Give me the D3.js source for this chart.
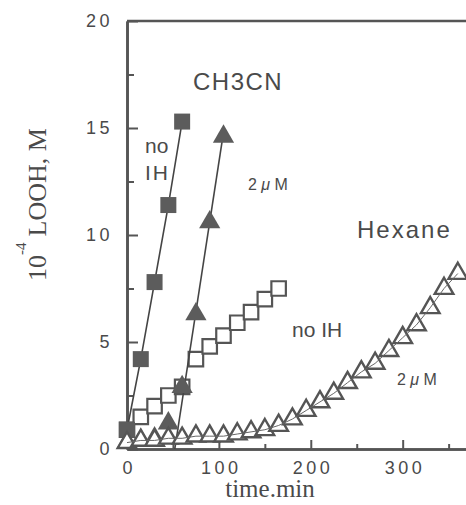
<!DOCTYPE html>
<html>
<head>
<meta charset="utf-8">
<script src="https://cdn.jsdelivr.net/npm/d3@7"></script>
<style>
    body { margin: 0; background: #fff; }
    svg { display: block; }
    .tick text { font-family: "Liberation Sans", Arial, sans-serif; font-size: 18px; fill: #4a4a4a; letter-spacing: 3.5px; }
    .note { font-family: "Liberation Sans", Arial, sans-serif; fill: #4a4a4a; }
    .serif { font-family: "Liberation Serif", "Times New Roman", serif; fill: #4a4a4a; }
</style>
</head>
<body>
<script>
"use strict";

// axis ticks
const timeTicks = [0, 100, 200, 300];
const timeMinor = [50, 150, 250, 350];
const loohTicks = [0, 5, 10, 15, 20];
const loohMinor = [2.5, 7.5, 12.5, 17.5];

// CH3CN, no inhibitor (filled squares)
const ch3cnNoIhTime = [0, 15, 30, 45, 60];
const ch3cnNoIhLooh = [0.9, 4.2, 7.8, 11.4, 15.3];

// CH3CN, 2 uM (filled triangles) + its fitted line
const ch3cn2uMTime = [0, 15, 30, 45, 60, 75, 90, 105];
const ch3cn2uMLooh = [0.3, 0.4, 0.5, 1.2, 2.9, 6.3, 10.6, 14.6];
const ch3cn2uMFitTime = [52, 105];
const ch3cn2uMFitLooh = [0, 14.8];

// Hexane, no inhibitor (open squares)
const hexNoIhTime = [0, 15, 30, 45, 60, 75, 90, 105, 120, 135, 150, 165];
const hexNoIhLooh = [0.9, 1.5, 2.0, 2.5, 2.9, 4.2, 4.8, 5.3, 5.9, 6.4, 7.0, 7.5];

// Hexane, 2 uM (open triangles)
const hex2uMTime = [0, 15, 30, 45, 60, 75, 90, 105, 120, 135, 150, 165, 180,
                    195, 210, 225, 240, 255, 270, 285, 300, 315, 330, 345, 360];
const hex2uMLooh = [0.3, 0.4, 0.4, 0.5, 0.5, 0.6, 0.6, 0.6, 0.7, 0.8, 0.9, 1.1, 1.4,
                    1.8, 2.2, 2.6, 3.1, 3.6, 4.0, 4.6, 5.2, 5.8, 6.6, 7.5, 8.2];

(function(){
    let svgContainer = "";

    const measurements = {
        width: 466,
        height: 505,
        left: 127,
        right: 467,
        top: 21,
        bottom: 449
    }

    const ink = "#555";

    window.onload = function() {
        svgContainer = d3.select('body').append("svg")
            .attr('width', measurements.width)
            .attr('height', measurements.height);

        let scaleX = d3.scaleLinear()
            .domain([0, 370])
            .range([measurements.left, measurements.right]);

        let scaleY = d3.scaleLinear()
            .domain([0, 20])
            .range([measurements.bottom, measurements.top]);

        drawAxes(scaleX, scaleY);
        plotData(scaleX, scaleY);
        makeLabels();
    }

    function zip(xs, ys) {
        return xs.map((x, i) => [x, ys[i]]);
    }

    function drawAxes(scaleX, scaleY) {
        // ticks point into the plot
        let xMajor = d3.axisBottom(scaleX).tickValues(timeTicks)
            .tickSizeInner(-9).tickSizeOuter(0).tickPadding(12);
        let xMinor = d3.axisBottom(scaleX).tickValues(timeMinor)
            .tickSizeInner(-5).tickSizeOuter(0).tickFormat("");
        let yMajor = d3.axisLeft(scaleY).tickValues(loohTicks)
            .tickSizeInner(-11).tickSizeOuter(0).tickPadding(14);
        let yMinor = d3.axisLeft(scaleY).tickValues(loohMinor)
            .tickSizeInner(-7).tickSizeOuter(0).tickFormat("");

        const bottom = 'translate(0,' + measurements.bottom + ')';
        const left = 'translate(' + measurements.left + ',0)';

        [[xMinor, bottom], [xMajor, bottom], [yMinor, left], [yMajor, left]].forEach(function(a) {
            let g = svgContainer.append('g')
                .attr('transform', a[1])
                .call(a[0]);
            g.select('.domain').attr('stroke', ink).attr('stroke-width', 2.6);
            g.selectAll('line').attr('stroke', ink).attr('stroke-width', 2);
        });
        // letter-spacing leaves a trailing gap, pull x labels back to centre
        svgContainer.selectAll('.tick text').attr('dx', function() {
            return d3.select(this.parentNode.parentNode).attr('transform') === bottom ? '1.75px' : null;
        });

        // frame top
        svgContainer.append('line')
            .attr('x1', scaleX(0)).attr('x2', scaleX(370))
            .attr('y1', scaleY(20)).attr('y2', scaleY(20))
            .attr('stroke', ink).attr('stroke-width', 2.6);
    }

    function plotData(scaleX, scaleY) {
        const line = d3.line().x(d => scaleX(d[0])).y(d => scaleY(d[1]));
        const place = d => 'translate(' + scaleX(d[0]) + ',' + scaleY(d[1]) + ')';

        // hexane no IH - open squares
        svgContainer.selectAll('.hexNoIh')
            .data(zip(hexNoIhTime, hexNoIhLooh))
            .enter().append('path')
            .attr('class', 'hexNoIh')
            .attr('d', d3.symbol(d3.symbolSquare, 210))
            .attr('transform', place)
            .attr('fill', '#fff')
            .attr('stroke', ink)
            .attr('stroke-width', 2.2);

        // lines
        svgContainer.append('path')
            .datum(zip(ch3cnNoIhTime, ch3cnNoIhLooh))
            .attr('d', line)
            .attr('fill', 'none').attr('stroke', '#444').attr('stroke-width', 1.6);

        svgContainer.append('path')
            .datum(zip(ch3cn2uMFitTime, ch3cn2uMFitLooh))
            .attr('d', line)
            .attr('fill', 'none').attr('stroke', '#444').attr('stroke-width', 1.6);

        // CH3CN no IH - filled squares
        svgContainer.selectAll('.ch3cnNoIh')
            .data(zip(ch3cnNoIhTime, ch3cnNoIhLooh))
            .enter().append('path')
            .attr('class', 'ch3cnNoIh')
            .attr('d', d3.symbol(d3.symbolSquare, 256))
            .attr('transform', place)
            .attr('fill', '#5c5c5c');

        // CH3CN 2uM - filled triangles
        svgContainer.selectAll('.ch3cn2uM')
            .data(zip(ch3cn2uMTime, ch3cn2uMLooh))
            .enter().append('path')
            .attr('class', 'ch3cn2uM')
            .attr('d', d3.symbol(d3.symbolTriangle, 195))
            .attr('transform', place)
            .attr('fill', '#5c5c5c');

        // hexane 2uM - open triangles
        svgContainer.selectAll('.hex2uM')
            .data(zip(hex2uMTime, hex2uMLooh))
            .enter().append('path')
            .attr('class', 'hex2uM')
            .attr('d', d3.symbol(d3.symbolTriangle, 150))
            .attr('transform', place)
            .attr('fill', '#fff')
            .attr('stroke', ink)
            .attr('stroke-width', 2.4);

        svgContainer.append('path')
            .datum(zip(hex2uMTime, hex2uMLooh))
            .attr('d', line)
            .attr('fill', 'none').attr('stroke', '#666').attr('stroke-width', 1);
    }

    function makeLabels() {
        svgContainer.append('text')
            .attr('class', 'note')
            .attr('x', 193).attr('y', 90)
            .style('font-size', '24px')
            .style('letter-spacing', '1.5px')
            .text('CH3CN');

        svgContainer.append('text')
            .attr('class', 'note')
            .attr('x', 357).attr('y', 238)
            .style('font-size', '24px')
            .style('letter-spacing', '2px')
            .text('Hexane');

        svgContainer.append('text')
            .attr('class', 'note')
            .attr('x', 145).attr('y', 153)
            .style('font-size', '21px')
            .text('no');
        svgContainer.append('text')
            .attr('class', 'note')
            .attr('x', 145).attr('y', 180)
            .style('font-size', '21px')
            .style('letter-spacing', '2px')
            .text('IH');

        svgContainer.append('text')
            .attr('class', 'note')
            .attr('x', 292).attr('y', 337)
            .style('font-size', '21px')
            .text('no IH');

        [[248, 190], [397, 385]].forEach(function(p) {
            let t = svgContainer.append('text')
                .attr('class', 'note')
                .attr('x', p[0]).attr('y', p[1])
                .style('font-size', '16px');
            t.append('tspan').text('2 ');
            t.append('tspan').style('font-style', 'italic').text('μ');
            t.append('tspan').text(' M');
        });

        svgContainer.append('text')
            .attr('class', 'serif')
            .attr('x', 270).attr('y', 497)
            .attr('text-anchor', 'middle')
            .style('font-size', '25px')
            .text('time.min');

        let yl = svgContainer.append('text')
            .attr('class', 'serif')
            .attr('transform', 'translate(46, 281)rotate(-90)')
            .style('font-size', '26px');
        yl.append('tspan').text('10');
        yl.append('tspan').attr('dy', -20).style('font-size', '15px').text('-4');
        yl.append('tspan').attr('dy', 20).attr('dx', 6).text('LOOH, M');
    }
})()
</script>
</body>
</html>
